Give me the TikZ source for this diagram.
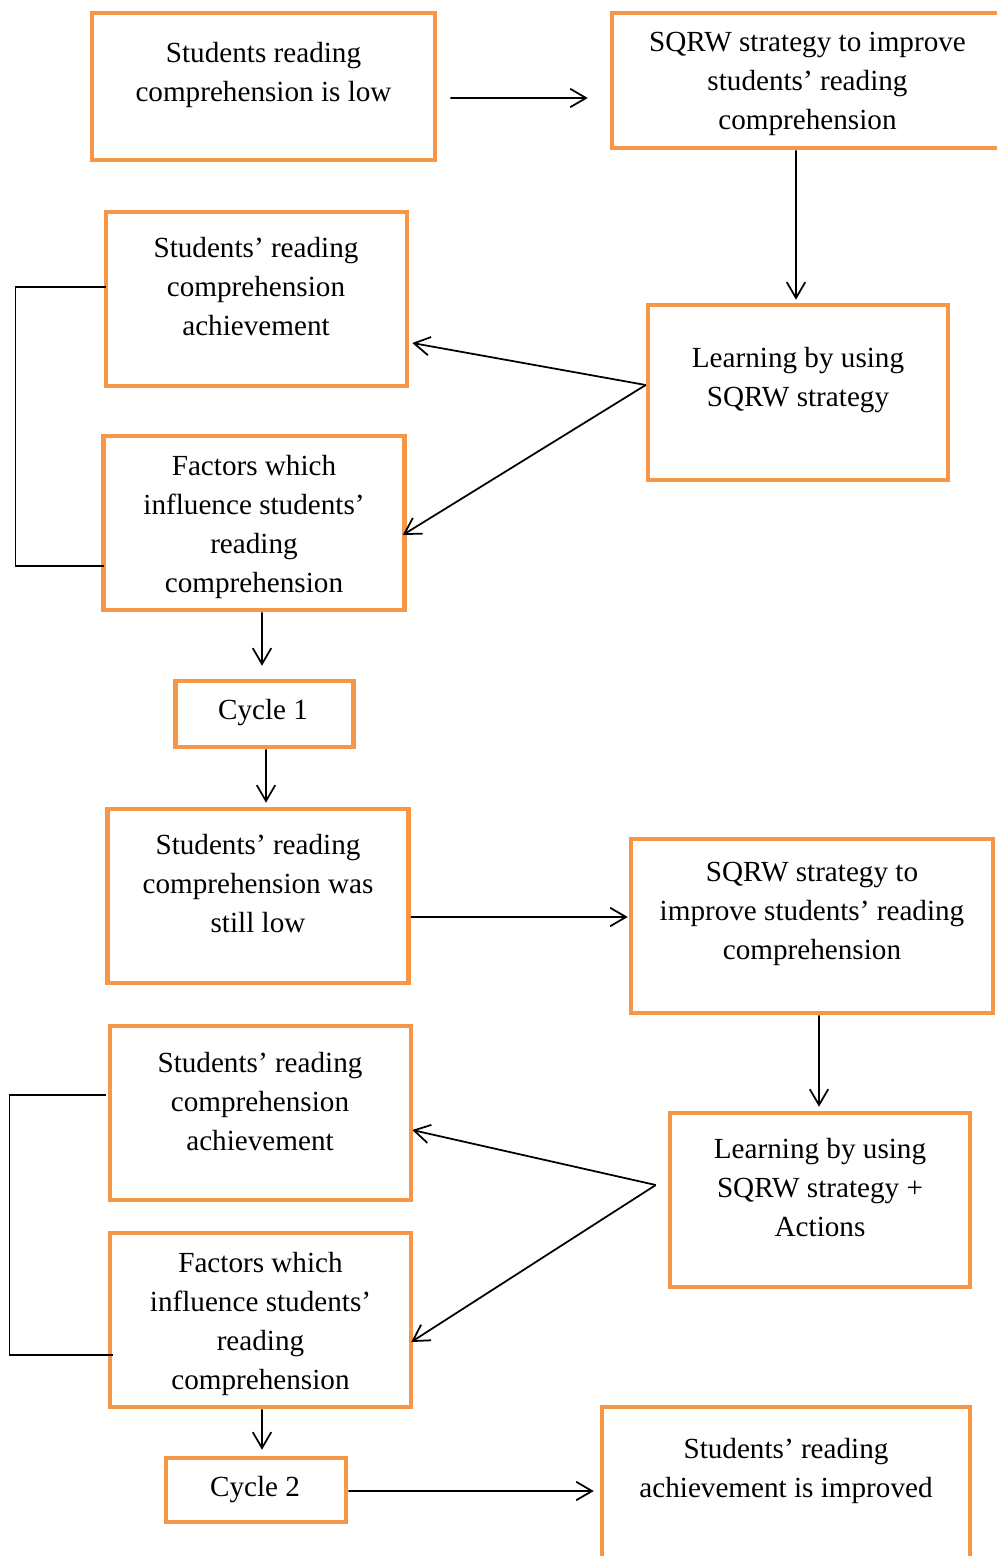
\documentclass[tikz,border=0pt]{standalone}
\usepackage{fontspec}
\setmainfont{Liberation Serif}
\usetikzlibrary{positioning, arrows.meta}
\definecolor{boxorange}{RGB}{247,150,70}

\begin{document}
\begin{tikzpicture}[
  x=0.02cm, y=-0.02cm,
  box/.style={draw=boxorange, line width=2.6pt, inner sep=0pt,
              minimum width=6.02cm, minimum height=3.48cm},
  cyclebox/.style={box, minimum width=3.56cm, minimum height=1.32cm},
  txt/.style={align=center, inner sep=0pt,
              font=\fontsize{16.6}{22.2}\selectfont},
  arr/.style={-{Straight Barb[length=9pt, width=10.5pt]}, line width=1pt, black},
  link/.style={line width=0.7pt, black},
]
\useasboundingbox (0,0) rectangle (997,1556);
\clip (0,0) rectangle (997,1556);

% --- Cycle 1: boxes ---
\node[box, minimum width=6.86cm, minimum height=2.94cm] (low) at (263.5,86.5) {};
\node[box, minimum width=7.82cm, minimum height=2.70cm] (sqrw1) at (807.5,80.5) {};
\node[box, minimum width=6.00cm, minimum height=3.50cm] (learn1) at (798,392.5) {};
\node[box] (ach1) at (256.5,299) {};
\node[box] (fac1) at (254,523) {};
\node[cyclebox] (cyc1) at (264.5,714) {};

% --- Cycle 2: boxes ---
\node[box] (still) at (258,896) {};
\node[box, minimum width=7.24cm] (sqrw2) at (812,926) {};
\node[box, minimum width=6.00cm] (learn2) at (820,1200) {};
\node[box] (ach2) at (260.5,1113) {};
\node[box] (fac2) at (260.5,1320) {};
\node[cyclebox, minimum width=3.60cm, minimum height=1.28cm] (cyc2) at (256,1490) {};
\node[box, minimum width=7.36cm] (impr) at (786,1494) {};

% --- Texts ---
\node[txt] (lowtxt) at (263.5,75) {Students reading\\comprehension is low};
\node[txt] (sqrw1txt) at (807.5,84) {SQRW strategy to improve\\students’ reading\\comprehension};
\node[txt] (learn1txt) at (798,380.5) {Learning by using\\SQRW strategy};
\node[txt] (ach1txt) at (256,287) {Students’ reading\\comprehension\\achievement};
\node[txt] (fac1txt) at (254,527) {Factors which\\influence students’\\reading\\comprehension};
\node[txt] (cyc1txt) at (263,713) {Cycle 1};
\node[txt] (stilltxt) at (258,884) {Students’ reading\\comprehension was\\still low};
\node[txt] (sqrw2txt) at (812,914) {SQRW strategy to\\improve students’ reading\\comprehension};
\node[txt] (learn2txt) at (820,1188) {Learning by using\\SQRW strategy +\\Actions};
\node[txt] (ach2txt) at (260,1102) {Students’ reading\\comprehension\\achievement};
\node[txt] (fac2txt) at (260.5,1324) {Factors which\\influence students’\\reading\\comprehension};
\node[txt] (cyc2txt) at (255,1490) {Cycle 2};
\node[txt] (imprtxt) at (786,1471) {Students’ reading\\achievement is improved};

% --- Cycle 1: arrows ---
\draw[arr] ([xshift=0.26cm,yshift=-0.23cm]low.east) -- ([xshift=-0.44cm,yshift=-0.35cm]sqrw1.west);
\draw[arr] ([xshift=-0.23cm]sqrw1.south) -- ([xshift=-0.04cm,yshift=0.06cm]learn1.north);
\draw[arr] ([yshift=0.15cm]learn1.west) -- ([xshift=0.06cm,yshift=-0.88cm]ach1.east);
\draw[arr] ([yshift=0.15cm]learn1.west) -- ([xshift=-0.08cm,yshift=-0.24cm]fac1.east);
\draw[link] ([xshift=0.04cm,yshift=0.24cm]ach1.west) -- ++(-90,0)
  |- ([xshift=0.06cm,yshift=-0.86cm]fac1.west);
\draw[arr] ([xshift=0.16cm]fac1.south) -- ([xshift=-0.05cm,yshift=0.26cm]cyc1.north);
\draw[arr] ([xshift=0.03cm]cyc1.south) -- ([xshift=0.16cm,yshift=0.08cm]still.north);

% --- Cycle 2: arrows ---
\draw[arr] ([yshift=-0.42cm]still.east) -- ([xshift=-0.02cm,yshift=0.18cm]sqrw2.west);
\draw[arr] ([xshift=0.14cm]sqrw2.south) -- ([xshift=-0.02cm,yshift=0.08cm]learn2.north);
\draw[arr] ([xshift=-0.24cm,yshift=0.3cm]learn2.west) -- ([xshift=-0.02cm,yshift=-0.34cm]ach2.east);
\draw[arr] ([xshift=-0.24cm,yshift=0.3cm]learn2.west) -- ([xshift=-0.04cm,yshift=-0.44cm]fac2.east);
\draw[link] ([xshift=-0.04cm,yshift=0.36cm]ach2.west) -- ++(-96,0)
  |- ([xshift=0.1cm,yshift=-0.7cm]fac2.west);
\draw[arr] ([xshift=0.03cm]fac2.south) -- ([xshift=0.12cm,yshift=0.12cm]cyc2.north);
\draw[arr] ([yshift=-0.02cm]cyc2.east) -- ([xshift=-0.12cm,yshift=0.06cm]impr.west);

\end{tikzpicture}
\end{document}
